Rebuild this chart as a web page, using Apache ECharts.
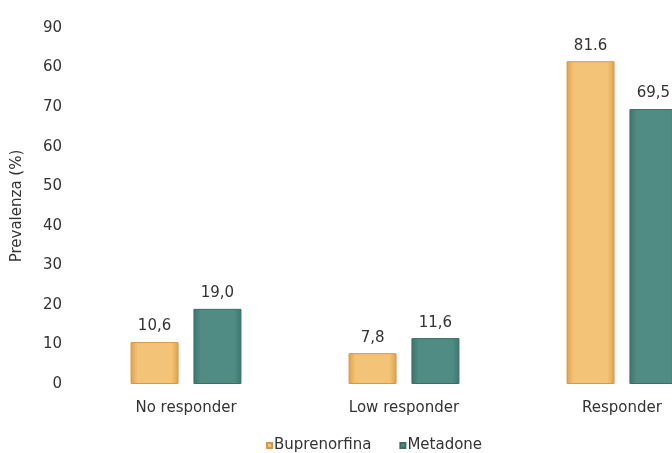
<!DOCTYPE html>
<html>
<head>
<meta charset="utf-8">
<script src="https://cdn.jsdelivr.net/npm/echarts@6/dist/echarts.min.js"></script>
<style>html,body{margin:0;padding:0;background:#fff;overflow:hidden;}#c{width:731px;height:453px;}</style>
</head>
<body>
<div id="c"></div>
<script>
const categories = ['No responder', 'Low responder', 'Responder'];
const buprenorfina = [10.6, 7.8, 81.6];
const metadone = [19.0, 11.6, 69.5];
const buprenorfinaLabels = ['10,6', '7,8', '81.6'];
const metadoneLabels = ['19,0', '11,6', '69,5'];
const yTickLabels = ['0', '10', '20', '30', '40', '50', '60', '70', '60', '90'];
const seriesNames = ['Buprenorfina', 'Metadone'];

const chart = echarts.init(document.getElementById('c'));
const font = 'DejaVu Sans, sans-serif';
function grad(edge, mid) {
  return new echarts.graphic.LinearGradient(0, 0, 1, 0, [
    {offset: 0, color: edge}, {offset: 0.15, color: mid}, {offset: 0.85, color: mid}, {offset: 1, color: edge}
  ]);
}
chart.setOption({
  backgroundColor: '#fff',
  animation: false,
  grid: {left: 77, top: 28, right: 0, bottom: 69, containLabel: false},
  legend: {
    top: 433, left: 261, itemWidth: 5, itemHeight: 5, itemGap: 28,
    icon: 'rect',
    textStyle: {fontFamily: font, fontSize: 15, color: '#333', padding: [0, 0, 0, -3]},
    data: seriesNames
  },
  xAxis: {
    type: 'category', data: categories,
    axisLine: {show: false}, axisTick: {show: false},
    axisLabel: {fontFamily: font, fontSize: 15, color: '#333', margin: 17}
  },
  yAxis: {
    type: 'value', min: 0, max: 90, interval: 10,
    name: 'Prevalenza (%)', nameLocation: 'middle', nameGap: 52, nameRotate: 90,
    nameTextStyle: {fontFamily: font, fontSize: 15, color: '#333'},
    splitLine: {show: false}, axisLine: {show: false}, axisTick: {show: false},
    axisLabel: {fontFamily: font, fontSize: 15, color: '#333', margin: 15,
      formatter: (v) => yTickLabels[Math.round(v / 10)]}
  },
  series: [
    {
      name: seriesNames[0], type: 'bar', data: buprenorfina, barWidth: 48, barGap: '31%',
      itemStyle: {color: grad('#DFA04E', '#F3C478'), borderColor: '#D8984A', borderWidth: 1},
      label: {show: true, position: 'top', distance: 8, fontFamily: font, fontSize: 15, color: '#333',
        formatter: (p) => buprenorfinaLabels[p.dataIndex]}
    },
    {
      name: seriesNames[1], type: 'bar', data: metadone, barWidth: 48,
      itemStyle: {color: grad('#3C766D', '#508C83'), borderColor: '#3A6F66', borderWidth: 1},
      label: {show: true, position: 'top', distance: 8, fontFamily: font, fontSize: 15, color: '#333',
        formatter: (p) => metadoneLabels[p.dataIndex]}
    }
  ]
});
</script>
</body>
</html>
